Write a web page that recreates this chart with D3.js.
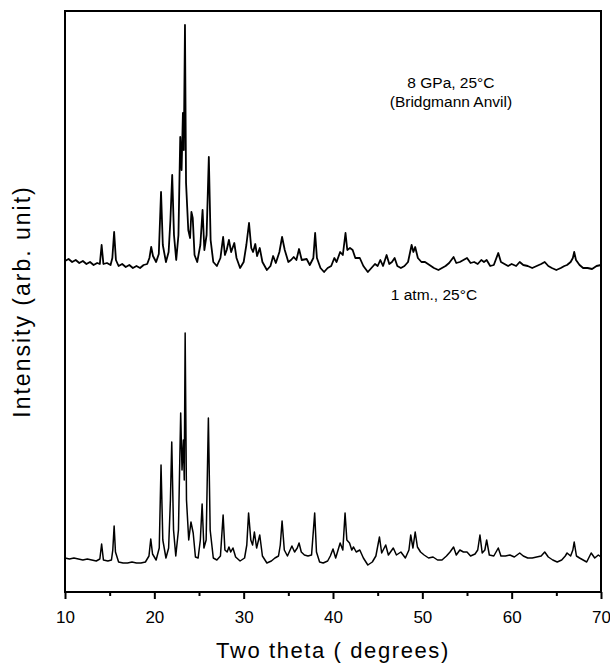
<!DOCTYPE html>
<html>
<head>
<meta charset="utf-8">
<script src="https://cdn.jsdelivr.net/npm/d3@7"></script>
<style>
  body { margin: 0; background: #fff; }
  svg { display: block; font-family: "Liberation Sans", Arial, sans-serif; }
</style>
</head>
<body>
<div class="chart"></div>
<script>
// XRD patterns, [two theta (deg), intensity (arb.)]
const highPressure = [
  [10.0, 331], [10.4, 333], [10.8, 330], [11.2, 332], [11.6, 329], [12.0, 331], [12.4, 328],
  [12.8, 330], [13.2, 327], [13.6, 329], [13.9, 328], [14.1, 347], [14.3, 328], [14.7, 329],
  [15.1, 327], [15.3, 334], [15.5, 360], [15.7, 332], [16.0, 326], [16.4, 328], [16.8, 325],
  [17.2, 327], [17.6, 324], [18.0, 326], [18.4, 324], [18.8, 327], [19.2, 328], [19.45, 334],
  [19.65, 345], [19.85, 336], [20.2, 330], [20.5, 338], [20.75, 400], [20.95, 347], [21.3, 330],
  [21.6, 340], [21.8, 372], [22.0, 417], [22.2, 357], [22.45, 332], [22.7, 357], [22.9, 455],
  [23.05, 422], [23.2, 479], [23.3, 442], [23.43, 567], [23.55, 409], [23.8, 362], [24.0, 354],
  [24.15, 380], [24.3, 374], [24.5, 337], [24.8, 330], [25.15, 347], [25.4, 382], [25.6, 342],
  [25.85, 357], [26.1, 435], [26.3, 352], [26.6, 330], [27.0, 326], [27.4, 334], [27.7, 355],
  [27.9, 337], [28.1, 342], [28.35, 352], [28.6, 340], [28.95, 349], [29.2, 334], [29.6, 324],
  [30.0, 330], [30.3, 347], [30.6, 369], [30.85, 344], [31.05, 340], [31.3, 348], [31.5, 336],
  [31.8, 344], [32.1, 330], [32.6, 322], [33.0, 326], [33.3, 336], [33.6, 329], [34.0, 340],
  [34.3, 355], [34.6, 342], [35.0, 330], [35.3, 332], [35.6, 335], [35.9, 332], [36.2, 343],
  [36.5, 332], [37.05, 333], [37.4, 327], [37.8, 334], [38.0, 359], [38.2, 334], [38.6, 324],
  [39.0, 320], [39.4, 324], [39.8, 326], [40.15, 334], [40.4, 330], [40.8, 340], [41.1, 337],
  [41.4, 359], [41.6, 342], [41.9, 344], [42.2, 342], [42.5, 334], [43.0, 334], [43.4, 326],
  [43.9, 320], [44.3, 324], [44.7, 328], [45.0, 326], [45.3, 332], [45.6, 326], [46.0, 337],
  [46.3, 328], [46.6, 330], [46.9, 334], [47.2, 326], [47.6, 324], [48.0, 326], [48.4, 330],
  [48.8, 347], [49.0, 340], [49.2, 345], [49.5, 334], [49.9, 330], [50.3, 330], [50.8, 327],
  [51.3, 324], [51.8, 322], [52.2, 324], [52.6, 326], [53.0, 329], [53.5, 335], [53.8, 329],
  [54.2, 330], [54.6, 332], [55.0, 334], [55.4, 329], [55.8, 330], [56.2, 328], [56.6, 332],
  [56.9, 330], [57.2, 332], [57.6, 326], [58.0, 327], [58.5, 339], [58.8, 330], [59.2, 328],
  [59.6, 326], [60.0, 328], [60.5, 326], [60.9, 330], [61.3, 327], [61.8, 326], [62.3, 324],
  [62.8, 326], [63.3, 328], [63.7, 330], [64.1, 326], [64.5, 324], [65.0, 322], [65.5, 324],
  [65.9, 326], [66.2, 327], [66.6, 330], [66.85, 334], [67.0, 340], [67.2, 332], [67.6, 327],
  [68.0, 324], [68.5, 324], [69.0, 323], [69.5, 326], [70.0, 327]
];

const ambient = [
  [10.0, 34], [10.5, 33], [11.0, 34], [11.5, 33], [12.0, 32], [12.5, 33], [13.0, 32],
  [13.5, 31], [13.9, 33], [14.1, 48], [14.3, 32], [14.8, 31], [15.2, 32], [15.35, 42],
  [15.5, 66], [15.65, 40], [16.0, 30], [16.5, 29], [17.0, 29], [17.5, 30], [18.0, 29],
  [18.5, 29], [19.0, 30], [19.4, 36], [19.6, 53], [19.8, 38], [20.2, 32], [20.55, 44],
  [20.75, 127], [20.95, 52], [21.3, 34], [21.6, 44], [21.8, 92], [21.95, 150], [22.15, 62],
  [22.4, 36], [22.7, 62], [22.95, 179], [23.1, 122], [23.25, 152], [23.35, 112], [23.45, 259],
  [23.6, 92], [23.85, 52], [24.1, 70], [24.35, 59], [24.6, 35], [24.9, 34], [25.15, 52],
  [25.35, 88], [25.55, 44], [25.8, 52], [26.05, 174], [26.25, 62], [26.6, 34], [27.0, 32],
  [27.4, 36], [27.7, 77], [27.9, 42], [28.15, 40], [28.35, 45], [28.55, 40], [28.8, 44],
  [29.1, 35], [29.6, 31], [30.1, 34], [30.35, 47], [30.55, 79], [30.8, 52], [31.0, 47],
  [31.2, 60], [31.45, 44], [31.8, 57], [32.1, 36], [32.6, 29], [33.1, 31], [33.5, 34],
  [33.9, 36], [34.1, 47], [34.3, 71], [34.55, 42], [34.9, 36], [35.4, 46], [35.7, 40],
  [36.0, 44], [36.2, 49], [36.45, 40], [36.8, 37], [37.2, 36], [37.6, 37], [37.95, 79],
  [38.15, 40], [38.5, 30], [38.9, 29], [39.4, 31], [39.7, 36], [40.0, 43], [40.3, 34],
  [40.8, 49], [41.1, 42], [41.35, 79], [41.55, 52], [41.85, 49], [42.1, 42], [42.3, 45],
  [42.6, 40], [43.0, 42], [43.4, 34], [43.9, 27], [44.4, 30], [44.8, 36], [45.2, 55],
  [45.45, 39], [45.9, 47], [46.2, 37], [46.75, 44], [47.1, 37], [47.6, 40], [48.1, 34],
  [48.5, 42], [48.7, 57], [48.95, 44], [49.2, 60], [49.45, 45], [49.8, 40], [50.2, 37],
  [50.7, 34], [51.2, 35], [51.7, 32], [52.2, 32], [52.7, 36], [53.1, 40], [53.5, 45],
  [53.8, 37], [54.2, 42], [54.6, 40], [55.0, 40], [55.4, 36], [55.9, 38], [56.2, 42],
  [56.45, 57], [56.7, 39], [57.0, 42], [57.2, 52], [57.5, 37], [58.0, 36], [58.5, 44],
  [58.8, 36], [59.3, 36], [59.8, 37], [60.3, 35], [60.9, 39], [61.3, 36], [61.8, 34],
  [62.3, 34], [62.8, 35], [63.3, 36], [63.7, 40], [64.1, 35], [64.6, 32], [65.1, 30],
  [65.6, 32], [66.0, 36], [66.2, 39], [66.6, 36], [66.85, 42], [67.0, 50], [67.25, 36],
  [67.6, 34], [68.0, 32], [68.4, 30], [68.9, 39], [69.3, 34], [69.7, 37], [70.0, 35]
];

const xTicks = [10, 20, 30, 40, 50, 60, 70];
const xMinorTicks = [15, 25, 35, 45, 55, 65];
const labels = [
  { lines: ["8 GPa, 25°C", "(Bridgmann  Anvil)"], x: 53.2, y: 504 },
  { lines: ["1 atm., 25°C"], x: 51.3, y: 292 }
];

const width = 610, height = 663;
const margin = { top: 11, right: 9, bottom: 71, left: 65 };

const x = d3.scaleLinear()
  .domain([10, 70])
  .range([margin.left, width - margin.right]);

const y = d3.scaleLinear()
  .domain([0, 581])
  .range([height - margin.bottom, margin.top]);

const svg = d3.select(".chart")
  .append("svg")
  .attr("width", width)
  .attr("height", height)
  .attr("viewBox", [0, 0, width, height]);

const line = d3.line()
  .x(d => x(d[0]))
  .y(d => y(d[1]));

svg.append("g")
  .attr("fill", "none")
  .attr("stroke", "#000")
  .attr("stroke-linejoin", "round")
  .selectAll("path")
  .data([highPressure, ambient])
  .join("path")
  .attr("stroke-width", (_, i) => i ? 1.5 : 1.8)
  .attr("d", line);

// minor ticks
svg.append("g")
  .attr("transform", `translate(0,${height - margin.bottom})`)
  .call(d3.axisBottom(x).tickValues(xMinorTicks).tickSize(4).tickFormat(""))
  .call(g => g.select(".domain").remove())
  .call(g => g.selectAll("line").attr("stroke-width", 2));

svg.append("g")
  .attr("transform", `translate(0,${height - margin.bottom})`)
  .call(d3.axisBottom(x).tickValues(xTicks).tickSize(7).tickPadding(12).tickFormat(d3.format("d")))
  .call(g => g.select(".domain").remove())
  .call(g => g.selectAll("line").attr("stroke-width", 2))
  .call(g => g.selectAll("text").attr("font-size", 17).attr("fill", "#000")
    .style("font-family", "'Liberation Sans', Arial, sans-serif"));

// frame
svg.append("rect")
  .attr("x", margin.left)
  .attr("y", margin.top)
  .attr("width", width - margin.left - margin.right)
  .attr("height", height - margin.top - margin.bottom)
  .attr("fill", "none")
  .attr("stroke", "#000")
  .attr("stroke-width", 2);

svg.append("text")
  .attr("x", (margin.left + width - margin.right) / 2)
  .attr("y", 658)
  .attr("text-anchor", "middle")
  .attr("font-size", 22)
  .attr("letter-spacing", 1.6)
  .text("Two theta ( degrees)");

svg.append("text")
  .attr("transform", `translate(30,${(margin.top + height - margin.bottom) / 2}) rotate(-90)`)
  .attr("text-anchor", "middle")
  .attr("font-size", 23)
  .attr("letter-spacing", 2)
  .text("Intensity (arb. unit)");

const ann = svg.append("g")
  .attr("font-size", 15.5)
  .attr("text-anchor", "middle");

labels.forEach(l => {
  ann.append("text")
    .attr("x", x(l.x))
    .attr("y", y(l.y))
    .selectAll("tspan")
    .data(l.lines)
    .join("tspan")
    .attr("x", x(l.x))
    .attr("dy", (_, i) => i ? "1.25em" : 0)
    .text(d => d);
});
</script>
</body>
</html>
